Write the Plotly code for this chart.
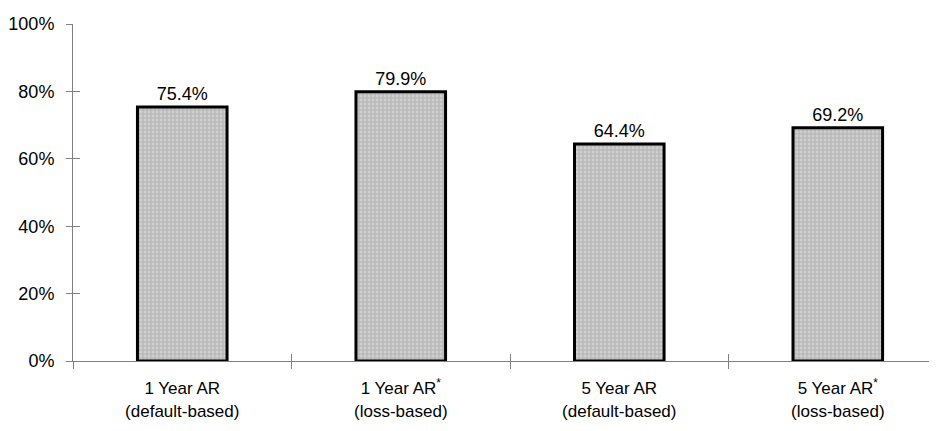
import plotly.graph_objects as go

categories = ["1 Year AR<br>(default-based)", "1 Year AR<sup>*</sup><br>(loss-based)",
              "5 Year AR<br>(default-based)", "5 Year AR<sup>*</sup><br>(loss-based)"]
values = [75.4, 79.9, 64.4, 69.2]
value_labels = ["75.4%", "79.9%", "64.4%", "69.2%"]
y_ticks = [0, 20, 40, 60, 80, 100]
y_tick_labels = ["0%", "20%", "40%", "60%", "80%", "100%"]

FONT = "Liberation Sans, Arial, sans-serif"
X_RANGE = [-0.5, 3.454]

fig = go.Figure()
fig.add_trace(go.Bar(
    x=categories, y=values, text=value_labels, textposition="outside",
    textfont=dict(size=18, color="black", family=FONT),
    marker=dict(color="#c4c4c4", line=dict(color="black", width=3),
                pattern=dict(shape="+", fgcolor="#929292", bgcolor="#d0d0d0", size=4, solidity=0.45)),
    cliponaxis=False, width=0.41,
))
fig.add_trace(go.Scatter(x=categories, y=values, xaxis="x2", yaxis="y2",
                         mode="markers", marker=dict(opacity=0), hoverinfo="skip", showlegend=False))

fig.update_layout(
    width=929, height=415,
    margin=dict(l=65, r=0, t=16, b=62),
    plot_bgcolor="white", paper_bgcolor="white",
    showlegend=False,
    font=dict(family=FONT, size=17, color="black"),
    xaxis=dict(range=X_RANGE, showline=True, linecolor="#808080", linewidth=1, ticks="outside",
               tickson="boundaries", ticklen=7, tickcolor="#808080", showgrid=False, automargin=False,
               ticklabelstandoff=12, tickfont=dict(size=17, family=FONT)),
    yaxis=dict(range=[0, 100], tickvals=y_ticks, ticktext=y_tick_labels, showline=True,
               linecolor="#808080", linewidth=1, ticks="outside", ticklen=6, tickcolor="#808080",
               showgrid=False, zeroline=False, automargin=False, ticklabelstandoff=8,
               tickfont=dict(size=18, family=FONT)),
    xaxis2=dict(overlaying="x", matches="x", range=X_RANGE, showline=False, ticks="inside",
                tickson="boundaries", ticklen=7, tickcolor="#808080", showticklabels=False,
                showgrid=False, automargin=False),
    yaxis2=dict(overlaying="y", range=[0, 100], tickvals=y_ticks, ticks="inside", ticklen=7,
                tickcolor="#808080", showticklabels=False, showgrid=False, zeroline=False, automargin=False),
    bargap=0.59,
)
fig.write_html("out.html")
